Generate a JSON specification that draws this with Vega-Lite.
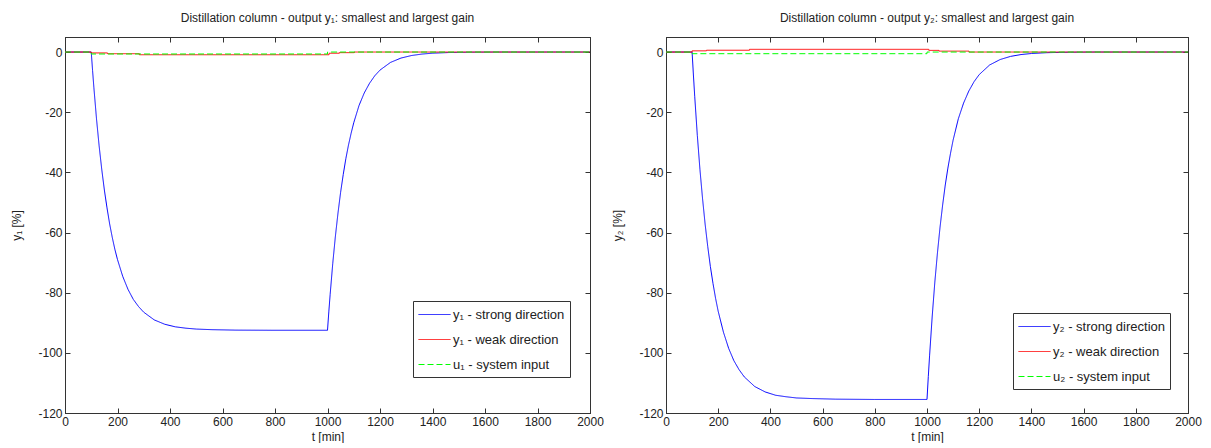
{
  "$schema": "https://vega.github.io/schema/vega-lite/v6.json",
  "background": "white",
  "padding": {"left": 10, "top": 11, "right": 5, "bottom": 0},
  "spacing": 7,
  "config": {
    "font": "Liberation Sans",
    "view": {"stroke": "#333", "strokeWidth": 1},
    "axis": {
      "grid": false,
      "domainColor": "#333",
      "tickColor": "#333",
      "tickSize": -5,
      "labelPadding": 8,
      "labelFlush": false,
      "labelExpr": "'' + datum.value",
      "labelColor": "#222",
      "labelFont": "Liberation Sans",
      "labelFontSize": 12,
      "titleFont": "Liberation Sans",
      "titleFontSize": 12,
      "titleFontWeight": "normal",
      "titleColor": "#222"
    },
    "axisY": {"titlePadding": 14},
    "title": {"font": "Liberation Sans", "fontSize": 12, "fontWeight": "normal", "color": "#222", "offset": 12},
    "legend": {
      "strokeColor": "#333",
      "fillColor": "white",
      "padding": 5,
      "rowPadding": 8,
      "symbolType": "M-1,0H3",
      "symbolSize": 256,
      "symbolStrokeWidth": 1,
      "labelOffset": 18,
      "labelFont": "Liberation Sans",
      "labelFontSize": 13,
      "labelColor": "#222",
      "labelLimit": 300
    }
  },
  "datasets": {
    "left": [
      {"series": "y₁ - strong direction", "t": 0, "v": 0},
      {"series": "y₁ - strong direction", "t": 100, "v": 0},
      {"series": "y₁ - strong direction", "t": 105, "v": -6.1},
      {"series": "y₁ - strong direction", "t": 110, "v": -11.8},
      {"series": "y₁ - strong direction", "t": 120, "v": -22.2},
      {"series": "y₁ - strong direction", "t": 130, "v": -31.2},
      {"series": "y₁ - strong direction", "t": 140, "v": -39.0},
      {"series": "y₁ - strong direction", "t": 150, "v": -45.9},
      {"series": "y₁ - strong direction", "t": 160, "v": -51.8},
      {"series": "y₁ - strong direction", "t": 170, "v": -57.1},
      {"series": "y₁ - strong direction", "t": 180, "v": -61.6},
      {"series": "y₁ - strong direction", "t": 190, "v": -65.6},
      {"series": "y₁ - strong direction", "t": 200, "v": -69.0},
      {"series": "y₁ - strong direction", "t": 220, "v": -74.6},
      {"series": "y₁ - strong direction", "t": 240, "v": -78.9},
      {"series": "y₁ - strong direction", "t": 260, "v": -82.2},
      {"series": "y₁ - strong direction", "t": 280, "v": -84.6},
      {"series": "y₁ - strong direction", "t": 300, "v": -86.5},
      {"series": "y₁ - strong direction", "t": 340, "v": -89.05},
      {"series": "y₁ - strong direction", "t": 380, "v": -90.5},
      {"series": "y₁ - strong direction", "t": 420, "v": -91.35},
      {"series": "y₁ - strong direction", "t": 460, "v": -91.8},
      {"series": "y₁ - strong direction", "t": 500, "v": -92.1},
      {"series": "y₁ - strong direction", "t": 560, "v": -92.3},
      {"series": "y₁ - strong direction", "t": 650, "v": -92.45},
      {"series": "y₁ - strong direction", "t": 800, "v": -92.5},
      {"series": "y₁ - strong direction", "t": 1000, "v": -92.5},
      {"series": "y₁ - strong direction", "t": 1005, "v": -86.4},
      {"series": "y₁ - strong direction", "t": 1010, "v": -80.7},
      {"series": "y₁ - strong direction", "t": 1020, "v": -70.3},
      {"series": "y₁ - strong direction", "t": 1030, "v": -61.3},
      {"series": "y₁ - strong direction", "t": 1040, "v": -53.5},
      {"series": "y₁ - strong direction", "t": 1050, "v": -46.6},
      {"series": "y₁ - strong direction", "t": 1060, "v": -40.7},
      {"series": "y₁ - strong direction", "t": 1070, "v": -35.4},
      {"series": "y₁ - strong direction", "t": 1080, "v": -30.9},
      {"series": "y₁ - strong direction", "t": 1090, "v": -27.0},
      {"series": "y₁ - strong direction", "t": 1100, "v": -23.5},
      {"series": "y₁ - strong direction", "t": 1120, "v": -17.8},
      {"series": "y₁ - strong direction", "t": 1140, "v": -13.6},
      {"series": "y₁ - strong direction", "t": 1160, "v": -10.4},
      {"series": "y₁ - strong direction", "t": 1180, "v": -7.9},
      {"series": "y₁ - strong direction", "t": 1200, "v": -6.0},
      {"series": "y₁ - strong direction", "t": 1240, "v": -3.45},
      {"series": "y₁ - strong direction", "t": 1280, "v": -2.0},
      {"series": "y₁ - strong direction", "t": 1320, "v": -1.16},
      {"series": "y₁ - strong direction", "t": 1360, "v": -0.67},
      {"series": "y₁ - strong direction", "t": 1400, "v": -0.39},
      {"series": "y₁ - strong direction", "t": 1460, "v": -0.17},
      {"series": "y₁ - strong direction", "t": 1550, "v": -0.05},
      {"series": "y₁ - strong direction", "t": 1650, "v": 0},
      {"series": "y₁ - strong direction", "t": 2000, "v": 0},
      {"series": "y₁ - weak direction", "t": 0, "v": 0},
      {"series": "y₁ - weak direction", "t": 100, "v": -0.3},
      {"series": "y₁ - weak direction", "t": 162, "v": -0.55},
      {"series": "y₁ - weak direction", "t": 283, "v": -0.9},
      {"series": "y₁ - weak direction", "t": 1006, "v": -0.4},
      {"series": "y₁ - weak direction", "t": 1045, "v": -0.2},
      {"series": "y₁ - weak direction", "t": 1102, "v": 0},
      {"series": "y₁ - weak direction", "t": 2000, "v": 0},
      {"series": "u₁ - system input", "t": 0, "v": 0},
      {"series": "u₁ - system input", "t": 100, "v": -0.65},
      {"series": "u₁ - system input", "t": 1000, "v": 0},
      {"series": "u₁ - system input", "t": 2000, "v": 0}
    ],
    "right": [
      {"series": "y₂ - strong direction", "t": 0, "v": 0},
      {"series": "y₂ - strong direction", "t": 100, "v": 0},
      {"series": "y₂ - strong direction", "t": 105, "v": -7.6},
      {"series": "y₂ - strong direction", "t": 110, "v": -14.7},
      {"series": "y₂ - strong direction", "t": 120, "v": -27.7},
      {"series": "y₂ - strong direction", "t": 130, "v": -39.0},
      {"series": "y₂ - strong direction", "t": 140, "v": -48.7},
      {"series": "y₂ - strong direction", "t": 150, "v": -57.3},
      {"series": "y₂ - strong direction", "t": 160, "v": -64.7},
      {"series": "y₂ - strong direction", "t": 170, "v": -71.3},
      {"series": "y₂ - strong direction", "t": 180, "v": -76.9},
      {"series": "y₂ - strong direction", "t": 190, "v": -81.9},
      {"series": "y₂ - strong direction", "t": 200, "v": -86.2},
      {"series": "y₂ - strong direction", "t": 220, "v": -93.1},
      {"series": "y₂ - strong direction", "t": 240, "v": -98.5},
      {"series": "y₂ - strong direction", "t": 260, "v": -102.6},
      {"series": "y₂ - strong direction", "t": 280, "v": -105.6},
      {"series": "y₂ - strong direction", "t": 300, "v": -108.0},
      {"series": "y₂ - strong direction", "t": 340, "v": -111.2},
      {"series": "y₂ - strong direction", "t": 380, "v": -113.0},
      {"series": "y₂ - strong direction", "t": 420, "v": -114.1},
      {"series": "y₂ - strong direction", "t": 460, "v": -114.6},
      {"series": "y₂ - strong direction", "t": 500, "v": -115.0},
      {"series": "y₂ - strong direction", "t": 560, "v": -115.2},
      {"series": "y₂ - strong direction", "t": 650, "v": -115.4},
      {"series": "y₂ - strong direction", "t": 800, "v": -115.5},
      {"series": "y₂ - strong direction", "t": 1000, "v": -115.5},
      {"series": "y₂ - strong direction", "t": 1005, "v": -107.9},
      {"series": "y₂ - strong direction", "t": 1010, "v": -100.8},
      {"series": "y₂ - strong direction", "t": 1020, "v": -87.8},
      {"series": "y₂ - strong direction", "t": 1030, "v": -76.5},
      {"series": "y₂ - strong direction", "t": 1040, "v": -66.8},
      {"series": "y₂ - strong direction", "t": 1050, "v": -58.2},
      {"series": "y₂ - strong direction", "t": 1060, "v": -50.8},
      {"series": "y₂ - strong direction", "t": 1070, "v": -44.2},
      {"series": "y₂ - strong direction", "t": 1080, "v": -38.6},
      {"series": "y₂ - strong direction", "t": 1090, "v": -33.7},
      {"series": "y₂ - strong direction", "t": 1100, "v": -29.3},
      {"series": "y₂ - strong direction", "t": 1120, "v": -22.2},
      {"series": "y₂ - strong direction", "t": 1140, "v": -17.0},
      {"series": "y₂ - strong direction", "t": 1160, "v": -13.0},
      {"series": "y₂ - strong direction", "t": 1180, "v": -9.9},
      {"series": "y₂ - strong direction", "t": 1200, "v": -7.5},
      {"series": "y₂ - strong direction", "t": 1240, "v": -4.3},
      {"series": "y₂ - strong direction", "t": 1280, "v": -2.5},
      {"series": "y₂ - strong direction", "t": 1320, "v": -1.45},
      {"series": "y₂ - strong direction", "t": 1360, "v": -0.84},
      {"series": "y₂ - strong direction", "t": 1400, "v": -0.49},
      {"series": "y₂ - strong direction", "t": 1460, "v": -0.21},
      {"series": "y₂ - strong direction", "t": 1550, "v": -0.06},
      {"series": "y₂ - strong direction", "t": 1650, "v": 0},
      {"series": "y₂ - strong direction", "t": 2000, "v": 0},
      {"series": "y₂ - weak direction", "t": 0, "v": 0},
      {"series": "y₂ - weak direction", "t": 100, "v": 0.4},
      {"series": "y₂ - weak direction", "t": 155, "v": 0.6},
      {"series": "y₂ - weak direction", "t": 320, "v": 0.9},
      {"series": "y₂ - weak direction", "t": 1007, "v": 0.55},
      {"series": "y₂ - weak direction", "t": 1046, "v": 0.3},
      {"series": "y₂ - weak direction", "t": 1161, "v": 0},
      {"series": "y₂ - weak direction", "t": 2000, "v": 0},
      {"series": "u₂ - system input", "t": 0, "v": 0},
      {"series": "u₂ - system input", "t": 100, "v": -0.55},
      {"series": "u₂ - system input", "t": 1000, "v": 0},
      {"series": "u₂ - system input", "t": 2000, "v": 0}
    ]
  },
  "hconcat": [
    {
      "width": 525,
      "height": 376,
      "title": "Distillation column - output y₁: smallest and largest gain",
      "data": {"name": "left"},
      "layer": [
        {
          "transform": [{"filter": {"field": "series", "equal": "y₁ - strong direction"}}],
          "mark": {"type": "line", "strokeWidth": 1},
          "encoding": {
            "x": {"field": "t", "type": "quantitative", "title": "t [min]", "scale": {"domain": [0, 2000], "nice": false}, "axis": {"orient": "bottom", "values": [0, 200, 400, 600, 800, 1000, 1200, 1400, 1600, 1800, 2000]}},
            "y": {"field": "v", "type": "quantitative", "title": "y₁ [%]", "scale": {"domain": [-120, 5], "nice": false, "zero": false}, "axis": {"orient": "left", "values": [-120, -100, -80, -60, -40, -20, 0]}},
            "color": {"field": "series", "type": "nominal", "scale": {"domain": ["y₁ - strong direction", "y₁ - weak direction", "u₁ - system input"], "range": ["#0000ff", "#ff0000", "#00ff00"]}, "legend": {"orient": "none", "legendX": 348, "legendY": 264, "title": null, "rowPadding": 9}},
            "strokeDash": {"field": "series", "type": "nominal", "scale": {"domain": ["y₁ - strong direction", "y₁ - weak direction", "u₁ - system input"], "range": [[1, 0], [1, 0], [6, 3]]}, "legend": {"orient": "none", "legendX": 348, "legendY": 264, "title": null, "rowPadding": 9}}
          }
        },
        {
          "transform": [{"filter": {"field": "series", "equal": "y₁ - weak direction"}}],
          "mark": {"type": "line", "strokeWidth": 1, "interpolate": "step-after"},
          "encoding": {
            "x": {"field": "t", "type": "quantitative", "axis": null},
            "y": {"field": "v", "type": "quantitative", "axis": null},
            "color": {"field": "series", "type": "nominal"},
            "strokeDash": {"field": "series", "type": "nominal"}
          }
        },
        {
          "transform": [{"filter": {"field": "series", "equal": "u₁ - system input"}}],
          "mark": {"type": "line", "strokeWidth": 1, "interpolate": "step-after"},
          "encoding": {
            "x": {"field": "t", "type": "quantitative", "axis": null},
            "y": {"field": "v", "type": "quantitative", "axis": null},
            "color": {"field": "series", "type": "nominal"},
            "strokeDash": {"field": "series", "type": "nominal"}
          }
        },
        {
          "mark": {"type": "point", "opacity": 0},
          "encoding": {
            "x": {"field": "t", "type": "quantitative", "axis": {"orient": "top", "labels": false, "title": null, "values": [0, 200, 400, 600, 800, 1000, 1200, 1400, 1600, 1800, 2000]}},
            "y": {"field": "v", "type": "quantitative", "axis": {"orient": "right", "labels": false, "title": null, "values": [-120, -100, -80, -60, -40, -20, 0]}}
          }
        }
      ],
      "resolve": {"axis": {"x": "independent", "y": "independent"}}
    },
    {
      "width": 522,
      "height": 376,
      "title": "Distillation column - output y₂: smallest and largest gain",
      "data": {"name": "right"},
      "layer": [
        {
          "transform": [{"filter": {"field": "series", "equal": "y₂ - strong direction"}}],
          "mark": {"type": "line", "strokeWidth": 1},
          "encoding": {
            "x": {"field": "t", "type": "quantitative", "title": "t [min]", "scale": {"domain": [0, 2000], "nice": false}, "axis": {"orient": "bottom", "values": [0, 200, 400, 600, 800, 1000, 1200, 1400, 1600, 1800, 2000]}},
            "y": {"field": "v", "type": "quantitative", "title": "y₂ [%]", "scale": {"domain": [-120, 5], "nice": false, "zero": false}, "axis": {"orient": "left", "values": [-120, -100, -80, -60, -40, -20, 0]}},
            "color": {"field": "series", "type": "nominal", "scale": {"domain": ["y₂ - strong direction", "y₂ - weak direction", "u₂ - system input"], "range": ["#0000ff", "#ff0000", "#00ff00"]}, "legend": {"orient": "none", "legendX": 347, "legendY": 276, "title": null, "rowPadding": 9, "labelExpr": "datum.label + '\u00a0\u00a0\u00a0'"}},
            "strokeDash": {"field": "series", "type": "nominal", "scale": {"domain": ["y₂ - strong direction", "y₂ - weak direction", "u₂ - system input"], "range": [[1, 0], [1, 0], [6, 3]]}, "legend": {"orient": "none", "legendX": 347, "legendY": 276, "title": null, "rowPadding": 9, "labelExpr": "datum.label + '\u00a0\u00a0\u00a0'"}}
          }
        },
        {
          "transform": [{"filter": {"field": "series", "equal": "y₂ - weak direction"}}],
          "mark": {"type": "line", "strokeWidth": 1, "interpolate": "step-after"},
          "encoding": {
            "x": {"field": "t", "type": "quantitative", "axis": null},
            "y": {"field": "v", "type": "quantitative", "axis": null},
            "color": {"field": "series", "type": "nominal"},
            "strokeDash": {"field": "series", "type": "nominal"}
          }
        },
        {
          "transform": [{"filter": {"field": "series", "equal": "u₂ - system input"}}],
          "mark": {"type": "line", "strokeWidth": 1, "interpolate": "step-after"},
          "encoding": {
            "x": {"field": "t", "type": "quantitative", "axis": null},
            "y": {"field": "v", "type": "quantitative", "axis": null},
            "color": {"field": "series", "type": "nominal"},
            "strokeDash": {"field": "series", "type": "nominal"}
          }
        },
        {
          "mark": {"type": "point", "opacity": 0},
          "encoding": {
            "x": {"field": "t", "type": "quantitative", "axis": {"orient": "top", "labels": false, "title": null, "values": [0, 200, 400, 600, 800, 1000, 1200, 1400, 1600, 1800, 2000]}},
            "y": {"field": "v", "type": "quantitative", "axis": {"orient": "right", "labels": false, "title": null, "values": [-120, -100, -80, -60, -40, -20, 0]}}
          }
        }
      ],
      "resolve": {"axis": {"x": "independent", "y": "independent"}}
    }
  ],
  "resolve": {"scale": {"color": "independent", "strokeDash": "independent"}, "legend": {"color": "independent", "strokeDash": "independent"}}
}
